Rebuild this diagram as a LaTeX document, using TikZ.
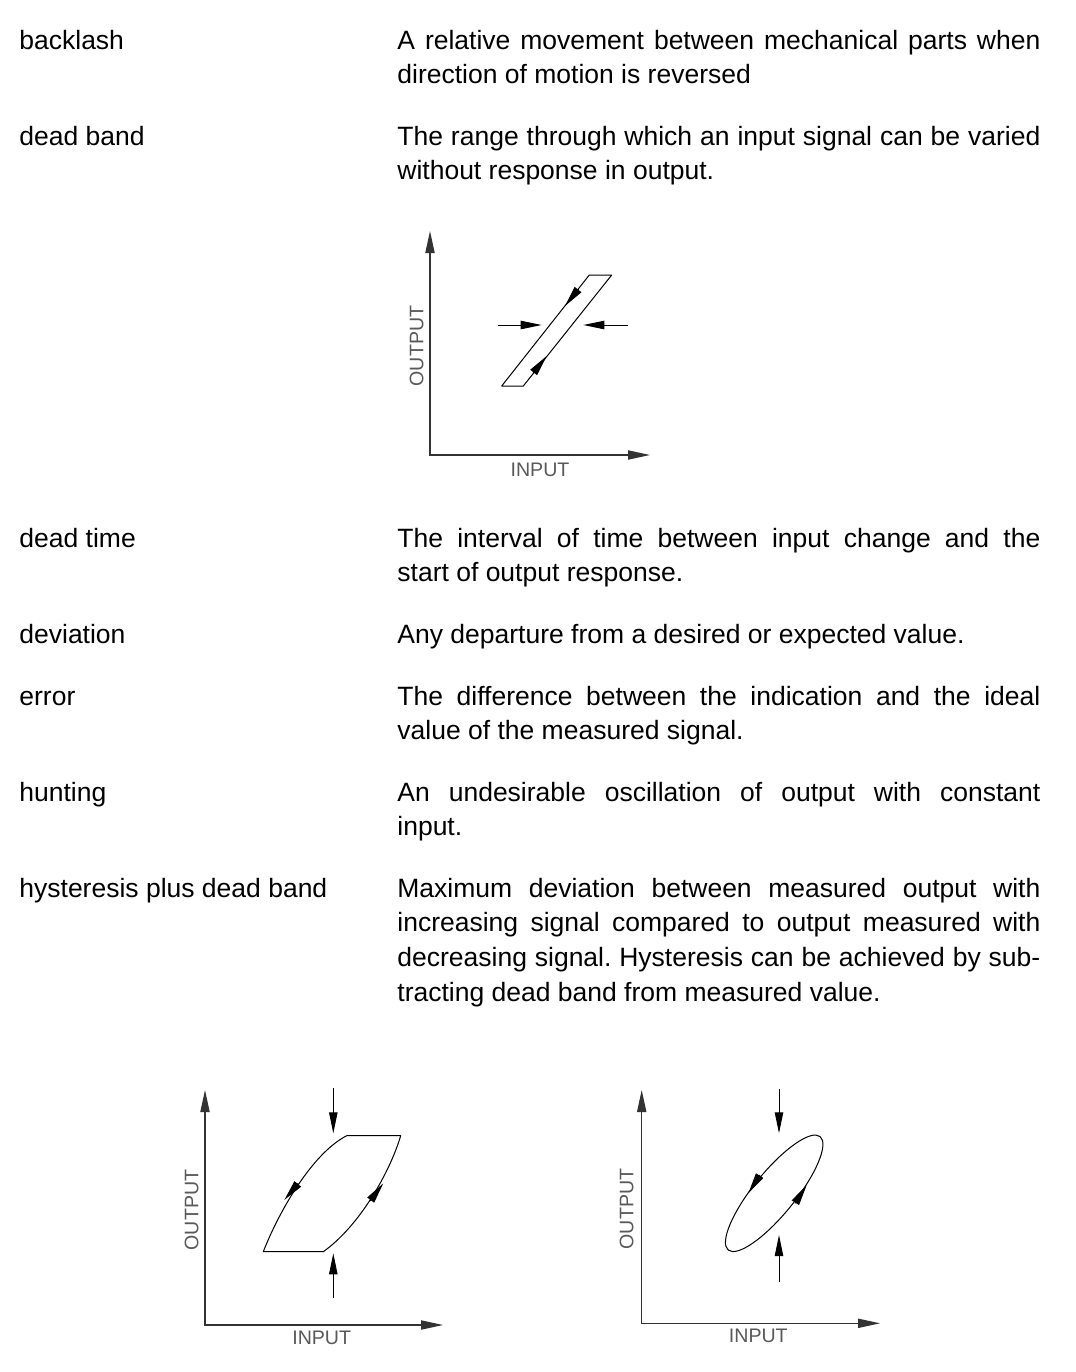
\documentclass[tikz,border=0pt]{standalone}
\usepackage{fontspec}
\setmainfont{Liberation Sans}
\usetikzlibrary{arrows.meta}
\frenchspacing
\begin{document}
\begin{tikzpicture}[x=0.5pt,y=0.5pt,
  term/.style={anchor=base west, inner sep=0pt, font=\fontsize{13.25}{17.35}\selectfont},
  defn/.style={anchor=base west, inner sep=0pt, text width=321.5pt, align=justify, font=\fontsize{13.25}{17.35}\selectfont\frenchspacing},
  axisline/.style={draw=black!80, line width=0.6pt, {Triangle[length=11pt,width=4.6pt]}-{Triangle[length=11pt,width=4.6pt]}},
  curve/.style={draw=black, line width=0.5pt, line join=round},
  arr/.style={draw=black, line width=0.5pt, -{Triangle[length=10.5pt,width=4.2pt]}},
  lbl/.style={inner sep=0pt, text=black!65, font=\fontsize{9.8}{11}\selectfont},
]
\useasboundingbox[fill=white] (0,0) rectangle (1076,-1372);

% ---------- glossary text ----------
\node[term] (t1) at (19,-49) {backlash};
\node[defn] (d1) at (397,-49) {A relative movement between mechanical parts when\linebreak direction of motion is reversed};
\node[term] (t2) at (19,-145) {dead band};
\node[defn] (d2) at (397,-145) {The range through which an input signal can be varied\linebreak without response in output.};
\node[term] (t3) at (19,-547) {dead time};
\node[defn] (d3) at (397,-547) {The interval of time between input change and the\linebreak start of output response.};
\node[term] (t4) at (19,-643) {deviation};
\node[defn] (d4) at (397,-643) {Any departure from a desired or expected value.};
\node[term] (t5) at (19,-705) {error};
\node[defn] (d5) at (397,-705) {The difference between the indication and the ideal\linebreak value of the measured signal.};
\node[term] (t6) at (19,-801) {hunting};
\node[defn] (d6) at (397,-801) {An undesirable oscillation of output with constant\linebreak input.};
\node[term] (t7) at (19,-897) {hysteresis plus dead band};
\node[defn] (d7) at (397,-897) {Maximum deviation between measured output with\linebreak increasing signal compared to output measured with\linebreak decreasing signal. Hysteresis can be achieved by sub-\linebreak tracting dead band from measured value.};

% ---------- diagram 1: dead band ----------
\coordinate (aO) at (430,-455);
\coordinate (aY) at (430,-231);
\coordinate (aX) at (650,-455);
\draw[axisline] (aY) -- (aO) -- (aX);
\coordinate (p1) at (501.7,-386);
\coordinate (p2) at (523.3,-386);
\coordinate (p3) at (611.7,-275);
\coordinate (p4) at (589.3,-275);
\draw[curve] (p1) -- (p2) -- (p3) -- (p4) -- cycle;
\coordinate (pa1s) at (578.5,-289);
\coordinate (pa1e) at (565,-306);
\coordinate (pa2s) at (533.2,-373);
\coordinate (pa2e) at (546.7,-356);
\draw[arr] (pa1s) -- (pa1e);
\draw[arr] (pa2s) -- (pa2e);
\coordinate (h1s) at (498.3,-325);
\coordinate (h1e) at (541.7,-325);
\coordinate (h2s) at (628.3,-325);
\coordinate (h2e) at (583.3,-325);
\draw[arr] (h1s) -- (h1e);
\draw[arr] (h2s) -- (h2e);
\node[lbl] (in1) at (540,-470) {INPUT};
\node[lbl, rotate=90] (out1) at (416.5,-346) {OUTPUT};

% ---------- diagram 2: hysteresis plus dead band ----------
\coordinate (bO) at (205,-1325);
\coordinate (bY) at (205,-1090);
\coordinate (bX) at (443,-1325);
\draw[axisline] (bY) -- (bO) -- (bX);
\coordinate (q1) at (346.7,-1135.7);
\coordinate (q2) at (400.7,-1135.7);
\coordinate (q3) at (323.3,-1251.7);
\coordinate (q4) at (263.3,-1251.7);
\draw[curve] (q1) -- (q2) .. controls (389.9,-1172.1) and (359.8,-1225.6) .. (q3) -- (q4) .. controls (277.7,-1214.5) and (311,-1154) .. (q1) -- cycle;
\coordinate (qa1s) at (298.3,-1183.3);
\coordinate (qa1e) at (284.3,-1200);
\coordinate (qa2s) at (370,-1201);
\coordinate (qa2e) at (383.3,-1183.3);
\draw[arr] (qa1s) -- (qa1e);
\draw[arr] (qa2s) -- (qa2e);
\coordinate (v1s) at (333.3,-1088);
\coordinate (v1e) at (333.3,-1133.3);
\coordinate (v2s) at (333.3,-1298);
\coordinate (v2e) at (333.3,-1253.3);
\draw[arr] (v1s) -- (v1e);
\draw[arr] (v2s) -- (v2e);
\node[lbl] (in2) at (321.7,-1337.5) {INPUT};
\node[lbl, rotate=90] (out2) at (191.7,-1210) {OUTPUT};

% ---------- diagram 3: hysteresis ----------
\coordinate (cO) at (641.7,-1323.3);
\coordinate (cY) at (641.7,-1090);
\coordinate (cX) at (880,-1323.3);
\draw[axisline] (cY) -- (cO) -- (cX);
\coordinate (ec) at (774.2,-1193.3);
\draw[curve, rotate around={51:(ec)}] (ec) ellipse [x radius=36.5pt, y radius=10.5pt];
\coordinate (ea1s) at (760,-1175);
\coordinate (ea1e) at (748.3,-1193.3);
\coordinate (ea2s) at (795,-1203.3);
\coordinate (ea2e) at (806.7,-1185);
\draw[arr] (ea1s) -- (ea1e);
\draw[arr] (ea2s) -- (ea2e);
\coordinate (w1s) at (779,-1089);
\coordinate (w1e) at (779,-1133.3);
\coordinate (w2s) at (779,-1281.7);
\coordinate (w2e) at (779,-1235);
\draw[arr] (w1s) -- (w1e);
\draw[arr] (w2s) -- (w2e);
\node[lbl] (in3) at (758.3,-1336) {INPUT};
\node[lbl, rotate=90] (out3) at (626.7,-1209) {OUTPUT};
\end{tikzpicture}
\end{document}
